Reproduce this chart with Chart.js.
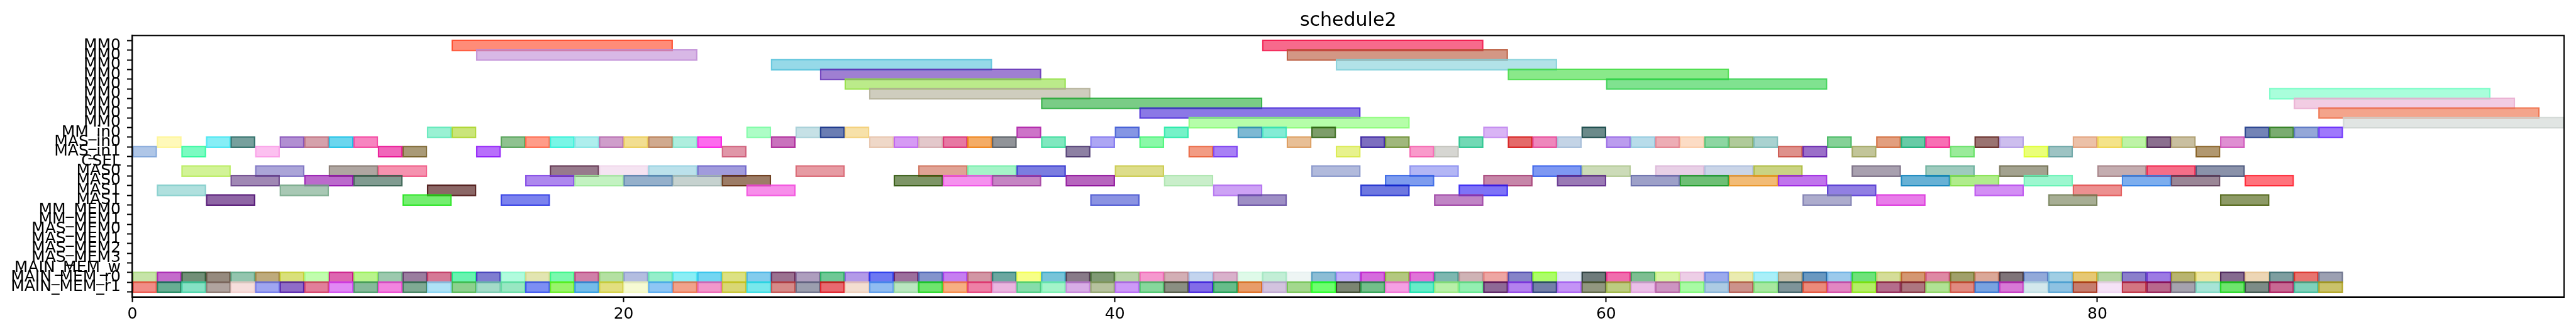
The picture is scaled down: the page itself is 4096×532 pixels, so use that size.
<!DOCTYPE html>
<html><head><meta charset="utf-8">
<script src="https://cdn.jsdelivr.net/npm/chart.js@4/dist/chart.umd.min.js"></script>
<style>html,body{margin:0;padding:0;background:#fff;overflow:hidden}</style>
</head><body>
<canvas id="c" width="4096" height="532" style="display:block;width:4096px;height:532px"></canvas>
<script>
const chartTitle = 'schedule2';
const rowLabels = ['MM0','MM0','MM0','MM0','MM0','MM0','MM0','MM0','MM0','MM_in0','MAS_in0','MAS_in1','CSEL','MAS0','MAS0','MAS1','MAS1','MM_MEM0','MM_MEM1','MAS_MEM0','MAS_MEM1','MAS_MEM2','MAS_MEM3','MAIN_MEM_w','MAIN_MEM_r0','MAIN_MEM_r1'];
const xTicks = [0, 20, 40, 60, 80];
const xMax = 99;

// MM0 rows: [row, start, end]
const mmTasks = [[0,13,22],[0,46,55],[1,14,23],[1,47,56],[2,26,35],[2,49,58],[3,28,37],[3,56,65],[4,29,38],[4,60,69],[5,30,39],[5,87,96],[6,37,46],[6,88,97],[7,41,50],[7,89,98],[8,43,52],[8,90,99]];
const mmColors = ['#FF8C78','#F76A8C','#D8B8E6','#D39785','#96D9E8','#B2E2E8','#9F7FD2','#8AE98A','#BBEB8A','#80E290','#CFCDBE','#A9FEDB','#7ACC86','#F2CCE3','#8B78E6','#F4A48B','#B5FEA9','#E1E5E3'];

const mmInSpans = [[12,13],[13,14],[25,26],[27,28],[28,29],[29,30],[36,37],[40,41],[42,43],[45,46],[46,47],[48,49],[55,56],[59,60],[86,87],[87,88],[88,89],[89,90]];
const mmInColors = ['#9AF1D3','#CAE57A','#ADFDC6','#C6E1E6','#6A7DB3','#F7E1A9','#CD73C8','#8596E4','#75F2C8','#7DB8D3','#83ECD5','#7D9D6A','#D9B4F5','#6B8A8A','#7384B6','#7AAC70','#94A7D8','#9F79FC'];

const masIn0Spans = [[1,2],[3,4],[4,5],[6,7],[7,8],[8,9],[9,10],[15,16],[16,17],[17,18],[18,19],[19,20],[20,21],[21,22],[22,23],[23,24],[26,27],[30,31],[31,32],[32,33],[33,34],[34,35],[35,36],[37,38],[39,40],[41,42],[47,48],[50,51],[51,52],[54,55],[56,57],[57,58],[58,59],[60,61],[61,62],[62,63],[63,64],[64,65],[65,66],[66,67],[69,70],[71,72],[72,73],[73,74],[75,76],[76,77],[79,80],[80,81],[81,82],[82,83],[83,84],[85,86]];
const masIn0Colors = ['#FFF9BA','#86EEF6','#77A09D','#B18FD2','#D5A1AB','#6BD6EE','#F784C0','#8FC290','#FF9C89','#79F6E6','#AEEEED','#CF9ECB','#F2DE91','#D0AA8F','#AEEEDE','#FD6BEE','#C972BD','#EFD8C8','#D69AF4','#E3C8CB','#E778A3','#F4AC66','#919499','#80E8BF','#ADA6F4','#8AF9A8','#E8BF96','#7D6EC0','#A0B77C','#72D9B5','#E46A6A','#EE87BC','#C4D4E6','#BB9CEE','#B8DCEA','#EDADB5','#FCDCC5','#8DD6A2','#B0CA9A','#A9D2D0','#85D197','#E29F7F','#68CBA6','#F86FB4','#9A7371','#CDBEEE','#ECC1A8','#F4E38A','#BEF3A7','#8B6F8F','#C9BFA0','#DF8FD2'];

const masIn1Spans = [[0,1],[2,3],[5,6],[10,11],[11,12],[14,15],[24,25],[38,39],[43,44],[44,45],[49,50],[52,53],[53,54],[67,68],[68,69],[70,71],[74,75],[77,78],[78,79],[84,85]];
const masIn1Colors = ['#AFC6E7','#7BFBC1','#FCC0F0','#F166BA','#A99A77','#B86FFB','#E096A8','#8D80A3','#F29C84','#A880F5','#E7F28D','#F99ACB','#D6D6D2','#DE918B','#9B6FC9','#C2C599','#9AEB9A','#EAFF78','#9DC3C3','#B19870'];

const mas0aSpans = [[2,4],[5,7],[8,10],[10,12],[17,19],[19,21],[21,23],[23,25],[27,29],[32,34],[34,36],[36,38],[40,42],[48,50],[52,54],[57,59],[59,61],[62,64],[64,66],[66,68],[70,72],[73,75],[76,78],[80,82],[82,84],[84,86]];
const mas0aColors = ['#D2F397','#ABA5D8','#AFA6A1','#F592AF','#977A8C','#F5E4F2','#BBE1EB','#A19BDC','#E69BA3','#E0A395','#A5F4C8','#7B7DE0','#DDDD8A','#B1BADC','#B3B6F5','#7E98F2','#CCDBB8','#E8D0E6','#CAD5E8','#CAD382','#A8A0AF','#9ECBBE','#A3A28F','#C4ADB0','#F56E88','#8A92AA'];

const mas0bSpans = [[4,6],[7,9],[9,11],[16,18],[18,20],[20,22],[22,24],[24,26],[31,33],[33,35],[35,37],[38,40],[42,44],[51,53],[55,57],[58,60],[61,63],[63,65],[65,67],[67,69],[72,74],[74,76],[77,79],[81,83],[83,85],[86,88]];
const mas0bColors = ['#A088B4','#BB6ACC','#809B90','#AE88EE','#C3F2C1','#95B0CB','#C6D2CF','#9C7C64','#7D9565','#F591EE','#C585C3','#B766BE','#C9EECA','#7E9CEE','#C686A8','#9A7AB5','#9DA0C8','#6EBF75','#F2BB75','#C074EC','#67B1D5','#B0EC8C','#9CF7CF','#7DAEEE','#9A8696','#FF737C'];

const mas1aSpans = [[1,3],[6,8],[12,14],[25,27],[44,46],[50,52],[54,56],[69,71],[75,77],[79,81]];
const mas1aColors = ['#B0E0DE','#A8C8B4','#8B6766','#F78EEA','#CDA2F5','#6E78E0','#7E73F7','#917FE3','#D38EF4','#EC9090'];

const mas1bSpans = [[3,5],[11,13],[15,17],[39,41],[45,47],[53,55],[68,70],[71,73],[78,80],[85,87]];
const mas1bColors = ['#8F66A5','#74EE70','#7B82EE','#8B93E2','#9E8FC5','#C085C5','#ADACCD','#E87DE9','#A7AE94','#8D9A66'];

const mainR0Spans = [[0,1],[1,2],[2,3],[3,4],[4,5],[5,6],[6,7],[7,8],[8,9],[9,10],[10,11],[11,12],[12,13],[13,14],[14,15],[15,16],[16,17],[17,18],[18,19],[19,20],[20,21],[21,22],[22,23],[23,24],[24,25],[25,26],[26,27],[27,28],[28,29],[29,30],[30,31],[31,32],[32,33],[33,34],[34,35],[35,36],[36,37],[37,38],[38,39],[39,40],[40,41],[41,42],[42,43],[43,44],[44,45],[45,46],[46,47],[47,48],[48,49],[49,50],[50,51],[51,52],[52,53],[53,54],[54,55],[55,56],[56,57],[57,58],[58,59],[59,60],[60,61],[61,62],[62,63],[63,64],[64,65],[65,66],[66,67],[67,68],[68,69],[69,70],[70,71],[71,72],[72,73],[73,74],[74,75],[75,76],[76,77],[77,78],[78,79],[79,80],[80,81],[81,82],[82,83],[83,84],[84,85],[85,86],[86,87],[87,88],[88,89],[89,90]];
const mainR0Colors = ['#C6E4A8','#C46CCB','#718F77','#968A7E','#93C5AE','#BEAA7C','#D9E07A','#C1FDAE','#DD66B0','#B9F48C','#9CC9AE','#9A7D9F','#D57996','#69F3B0','#7F7DD0','#B1FBDD','#E2E5B1','#7AF9AE','#D07FA8','#B4E0A2','#B3BDE0','#95EECA','#8BEEF5','#73D6F2','#DCE183','#83CCED','#9B7190','#AE9EBE','#6EC895','#B39AE8','#6D78F2','#9C6E9C','#8494CC','#C67EF1','#D296A4','#6BA7A0','#F7FF87','#77C4D9','#887A88','#7F9A74','#B8D3A8','#F598CE','#D3AFB5','#C3D4EE','#D9B1CB','#DFFAE9','#C2EED6','#EEF5F4','#8CBDD5','#C1B1F8','#D56BDD','#B3C87F','#E074D8','#7DB7B0','#CFB3B5','#EEA6A3','#8684C8','#ACFD68','#E3EAF5','#6E7B7B','#F06DAD','#7DBE91','#D8F5A4','#EDCEE6','#9BAAED','#EAEBB0','#A9EFF8','#C8C0A9','#6A98C0','#9CCAEC','#6EE27A','#D5DD99','#D49772','#DE89A4','#A0A06A','#DBA898','#7F7479','#92A9D9','#A0CEE4','#E6C874','#B6D6A5','#8B7FCB','#9D7BE3','#B8B46F','#EEE7A2','#856A8F','#EDD6B5','#7E9EA0','#E7746F','#9CA0B2'];

const mainR1Spans = [[0,1],[1,2],[2,3],[3,4],[4,5],[5,6],[6,7],[7,8],[8,9],[9,10],[10,11],[11,12],[12,13],[13,14],[14,15],[15,16],[16,17],[17,18],[18,19],[19,20],[20,21],[21,22],[22,23],[23,24],[24,25],[25,26],[26,27],[27,28],[28,29],[29,30],[30,31],[31,32],[32,33],[33,34],[34,35],[35,36],[36,37],[37,38],[38,39],[39,40],[40,41],[41,42],[42,43],[43,44],[44,45],[45,46],[46,47],[47,48],[48,49],[49,50],[50,51],[51,52],[52,53],[53,54],[54,55],[55,56],[56,57],[57,58],[58,59],[59,60],[60,61],[61,62],[62,63],[63,64],[64,65],[65,66],[66,67],[67,68],[68,69],[69,70],[70,71],[71,72],[72,73],[73,74],[74,75],[75,76],[76,77],[77,78],[78,79],[79,80],[80,81],[81,82],[82,83],[83,84],[84,85],[85,86],[86,87],[87,88],[88,89],[89,90]];
const mainR1Colors = ['#F28C86','#67AE93','#85E2C4','#B0A39E','#F6DEDC','#9FA5F1','#8F6CC8','#E27E9A','#E188F5','#85BA9A','#F284DF','#7FAA93','#AEE2F6','#8DD18E','#A3DBC8','#98E7C2','#7C8EF4','#99F46B','#74BCEA','#E2DF7F','#F6FAD3','#8EC6F5','#F2A28A','#F297CB','#D9D774','#78E8EC','#D68A88','#9B9EAE','#E9696F','#F3DED0','#90BCF1','#B9E6BF','#6EE56D','#F7AF82','#EE80A6','#EAB5E0','#85DDAA','#A3F4C9','#D8ADE6','#B6C29E','#CD99F8','#86D89C','#8A8F82','#826CE8','#66BD8A','#E89C69','#D3C3DF','#A3D88D','#6DFF6D','#7B8572','#72BF8A','#F59FE3','#66ECC8','#B8F0A8','#93EFB1','#8E6996','#B481EE','#737FA8','#C493F6','#91977F','#BCCC80','#EBBFE8','#CD94C2','#A8FBA4','#ACCBE3','#CC928B','#A7E8A0','#7E9499','#EC8A7A','#E286C2','#B4EE66','#B46D8C','#AD7680','#B0E294','#E08A80','#78A3E1','#D878D6','#D3E8EC','#8EC2E2','#C67D6E','#F5E2F6','#D47581','#B9688C','#A5A2AE','#A6E4D6','#6DE56C','#7C8C87','#C86893','#7FD1BA','#CAC26A'];

// ---- build dataset ----
const ALPHA = 0.6;
function baseOf(hex){
  const n = parseInt(hex.slice(1),16);
  const f = c => Math.max(0, Math.min(255, Math.round(255 - (255 - c)/ALPHA)));
  return [f((n>>16)&255), f((n>>8)&255), f(n&255)];
}
const rgba = (b,a) => `rgba(${b[0]},${b[1]},${b[2]},${a})`;

const points = [], fills = [], borders = [];
function add(row, span, color){
  points.push({x:[span[0], span[1]], y:row});
  const b = baseOf(color);
  fills.push(rgba(b, ALPHA));
  borders.push(rgba(b, 0.85));
}
mmTasks.forEach((t,i) => add(t[0], [t[1], t[2]], mmColors[i]));
const groups = [
  ['MM_in0', mmInSpans, mmInColors, 0],
  ['MAS_in0', masIn0Spans, masIn0Colors, 0],
  ['MAS_in1', masIn1Spans, masIn1Colors, 0],
  ['MAS0', mas0aSpans, mas0aColors, 0],
  ['MAS0', mas0bSpans, mas0bColors, 1],
  ['MAS1', mas1aSpans, mas1aColors, 0],
  ['MAS1', mas1bSpans, mas1bColors, 1],
  ['MAIN_MEM_r0', mainR0Spans, mainR0Colors, 0],
  ['MAIN_MEM_r1', mainR1Spans, mainR1Colors, 0]
];
groups.forEach(([label, spans, cols, k]) => {
  const row = rowLabels.indexOf(label) + k;
  spans.forEach((s,i) => add(row, s, cols[i]));
});

const FONT = 'DejaVu Sans';
const framePlugin = {
  id:'frame',
  afterDatasetsDraw(chart){
    const {ctx, chartArea:a} = chart;
    ctx.save();
    ctx.strokeStyle = '#000'; ctx.lineWidth = 2;
    ctx.strokeRect(a.left, a.top, a.right - a.left, a.bottom - a.top);
    ctx.restore();
  },
  afterDraw(chart){
    const {ctx, chartArea:a} = chart;
    ctx.save();
    ctx.fillStyle = '#000';
    ctx.font = `30px "${FONT}"`;
    ctx.textAlign = 'center';
    ctx.textBaseline = 'alphabetic';
    ctx.fillText(chartTitle, (a.left + a.right)/2, 40.5);
    ctx.restore();
  }
};

new Chart(document.getElementById('c'), {
  type:'bar',
  data:{ datasets:[{
    data: points,
    backgroundColor: fills,
    borderColor: borders,
    borderWidth: 1.6,
    borderSkipped: false,
    barThickness: 18,
    grouped: false
  }]},
  options:{
    indexAxis:'y',
    responsive:false,
    animation:false,
    devicePixelRatio:1,
    layout:{padding:{top:56.4, right:19, left:0, bottom:0}},
    plugins:{legend:{display:false}, tooltip:{enabled:false}, title:{display:false}},
    scales:{
      x:{
        type:'linear', position:'bottom', min:0, max:xMax,
        afterFit(a){ a.height = 60.5; },
        afterBuildTicks(a){ a.ticks = xTicks.map(v => ({value:v})); },
        grid:{drawOnChartArea:false, drawTicks:true, tickLength:8.4, tickWidth:2, tickColor:'#000'},
        border:{display:true, color:'#000', width:2},
        ticks:{font:{family:FONT, size:25}, color:'#000', padding:5, maxRotation:0, autoSkip:false}
      },
      y:{
        type:'linear', reverse:true, min:-0.5, max:rowLabels.length - 0.5,
        afterFit(a){ a.width = 210.4; },
        afterBuildTicks(a){ a.ticks = rowLabels.map((_, i) => ({value:i})); },
        grid:{drawOnChartArea:false, drawTicks:true, tickLength:8.4, tickWidth:2, tickColor:'#000'},
        border:{display:true, color:'#000', width:2},
        ticks:{font:{family:FONT, size:25}, color:'#000', padding:10, autoSkip:false,
          callback:(v) => rowLabels[v] ?? ''}
      }
    }
  },
  plugins:[framePlugin]
});
</script>
</body></html>
